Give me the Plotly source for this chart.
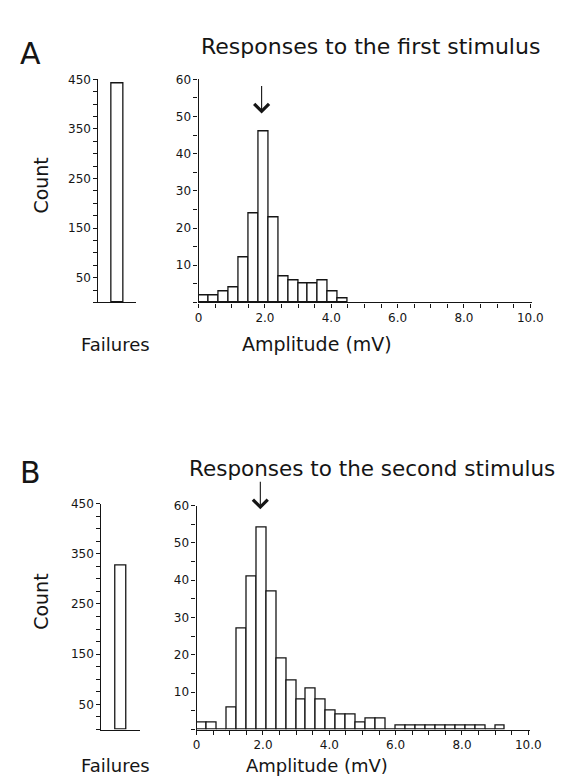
import plotly.graph_objects as go

# ---------------- data ----------------
BIN_WIDTH = 0.3  # mV
amp_counts_first = [2, 2, 3, 4, 12, 24, 46, 23, 7, 6, 5, 5, 6, 3, 1]
amp_counts_second = [2, 2, 0, 6, 27, 41, 54, 37, 19, 13, 8, 11, 8, 5, 4, 4, 2, 3, 3,
                     0, 1, 1, 1, 1, 1, 1, 1, 1, 1, 0, 1]
failures_first = [441]
failures_second = [327]
peak_first = 1.9
peak_second = 1.92

count_ticks = [50, 150, 250, 350, 450]
amp_ticks = [10, 20, 30, 40, 50, 60]
x_ticks = [0, 2, 4, 6, 8, 10]
x_tick_text = ["0", "2.0", "4.0", "6.0", "8.0", "10.0"]

W, H = 568, 780
INK = "#151515"
FONT = "DejaVu Sans, Liberation Sans, Arial, sans-serif"


def xd(a, b):
    return [a / W, b / W]


def yd(top, bottom):
    return [1 - bottom / H, 1 - top / H]


def centers(counts):
    return [i * BIN_WIDTH + BIN_WIDTH / 2 for i in range(len(counts))]


fig = go.Figure()

bar_style = dict(marker=dict(color="white", line=dict(color=INK, width=1.3)),
                 showlegend=False, hoverinfo="skip")

fig.add_trace(go.Bar(x=[0], y=failures_first, width=0.3, xaxis="x", yaxis="y", **bar_style))
fig.add_trace(go.Bar(x=centers(amp_counts_first), y=amp_counts_first, width=BIN_WIDTH,
                     xaxis="x2", yaxis="y2", **bar_style))
fig.add_trace(go.Bar(x=[0], y=failures_second, width=0.3, xaxis="x3", yaxis="y3", **bar_style))
fig.add_trace(go.Bar(x=centers(amp_counts_second), y=amp_counts_second, width=BIN_WIDTH,
                     xaxis="x4", yaxis="y4", **bar_style))

tickfont = dict(family=FONT, size=12, color=INK)
axline = dict(showline=True, linecolor=INK, linewidth=1.3, showgrid=False, zeroline=False,
              ticks="outside", tickcolor=INK, tickwidth=1.1, tickfont=tickfont)

count_minor = [v for v in range(0, 451, 25)]
count_text = [str(v) if v in count_ticks else "" for v in count_minor]
amp_minor = [v for v in range(0, 61, 5)]
amp_text = [str(v) if v in amp_ticks else "" for v in amp_minor]
xt_vals = [v / 2 for v in range(0, 21)]
xt_text = [x_tick_text[x_ticks.index(v)] if v in x_ticks else "" for v in xt_vals]

fail_x = dict(range=[-0.5, 0.5], showticklabels=False, ticks="", showline=True,
              linecolor=INK, linewidth=1.3, showgrid=False, zeroline=False)
count_y = dict(axline, range=[0, 450], tickmode="array", tickvals=count_minor,
               ticktext=count_text, ticklen=4)
amp_x = dict(axline, range=[0, 10.05], tickmode="array", tickvals=xt_vals,
             ticktext=xt_text, ticklen=4)
amp_y = dict(axline, range=[0, 60], tickmode="array", tickvals=amp_minor,
             ticktext=amp_text, ticklen=4)

fig.update_layout(
    width=W, height=H, margin=dict(l=0, r=0, t=0, b=0),
    paper_bgcolor="white", plot_bgcolor="white", bargap=0,
    xaxis=dict(fail_x, domain=xd(89, 128), anchor="y"),
    yaxis=dict(count_y, domain=yd(65, 290), anchor="x"),
    xaxis2=dict(amp_x, domain=xd(192, 535), anchor="y2"),
    yaxis2=dict(amp_y, domain=yd(65, 290), anchor="x2"),
    xaxis3=dict(fail_x, domain=xd(92, 132), anchor="y3"),
    yaxis3=dict(count_y, domain=yd(493, 721), anchor="x3"),
    xaxis4=dict(amp_x, domain=xd(190, 533), anchor="y4"),
    yaxis4=dict(amp_y, domain=yd(495, 721), anchor="x4"),
)


def txt(s, x, y, size, angle=0):
    fig.add_annotation(text=s, x=x / W, y=1 - y / H, xref="paper", yref="paper",
                       showarrow=False, textangle=angle,
                       font=dict(family=FONT, size=size, color=INK),
                       xanchor="center", yanchor="middle")


txt("A", 19, 39, 30)
txt("Responses to the first stimulus", 369, 32, 22)
txt("Count", 30, 172, 19, -90)
txt("Failures", 106, 332, 18)
txt("Amplitude (mV)", 314, 332, 19)

txt("B", 19, 462, 30)
txt("Responses to the second stimulus", 370, 458, 21.5)
txt("Count", 30, 592, 19, -90)
txt("Failures", 106, 757, 18)
txt("Amplitude (mV)", 314, 757, 18)

arrow = dict(showarrow=True, arrowhead=4, arrowsize=2.6, arrowwidth=1.1, arrowcolor=INK,
             ax=0, ay=-29, text="")
fig.add_annotation(x=peak_first, y=50.8, xref="x2", yref="y2", **arrow)
fig.add_annotation(x=peak_second, y=59, xref="x4", yref="y4", **arrow)

fig.write_html("out.html")
